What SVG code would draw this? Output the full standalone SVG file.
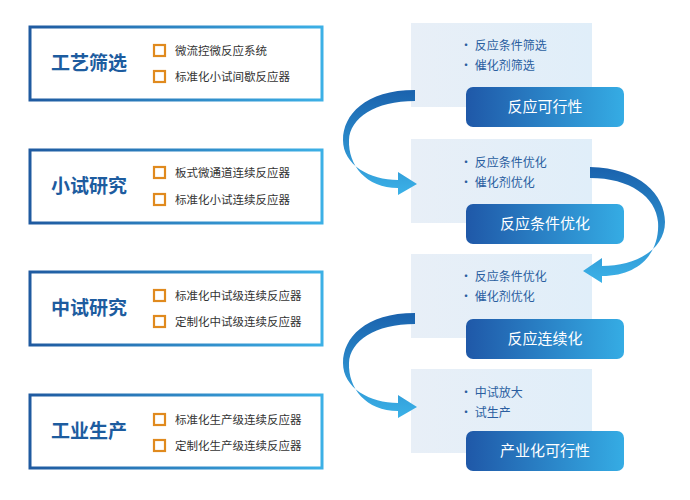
<svg xmlns="http://www.w3.org/2000/svg" width="690" height="500" viewBox="0 0 690 500">
<defs>
<linearGradient id="bd" x1="0" y1="0" x2="1" y2="0"><stop offset="0" stop-color="#1f5aa0"/><stop offset="1" stop-color="#3cb0e6"/></linearGradient>
<linearGradient id="btn" x1="0" y1="0" x2="1" y2="0"><stop offset="0" stop-color="#1f58a8"/><stop offset="1" stop-color="#35ace4"/></linearGradient>
<linearGradient id="pn" x1="0" y1="0" x2="1" y2="0"><stop offset="0" stop-color="#e8eff7"/><stop offset="1" stop-color="#e0eef9"/></linearGradient>
<linearGradient id="ar" x1="0" y1="0" x2="0" y2="1"><stop offset="0" stop-color="#1a62ad"/><stop offset="1" stop-color="#3bb2e8"/></linearGradient>
<style>
.lb{fill:#fff;stroke:url(#bd);stroke-width:3}
.t{font-family:"Noto Sans CJK SC",sans-serif;font-weight:bold;font-size:19px;fill:#1d5c9f;text-anchor:middle}
.sq{fill:none;stroke:#e08a1e;stroke-width:2.2}
.s{font-family:"Noto Sans CJK SC",sans-serif;font-size:11.5px;fill:#333}
.b{font-family:"Noto Sans CJK SC",sans-serif;font-size:12px;fill:#2a5ea0}
.w{font-family:"Noto Sans CJK SC",sans-serif;font-size:15px;fill:#fff;text-anchor:middle}
</style>
</defs>
<rect width="690" height="500" fill="#fff"/>
<g id="left1"><rect class="lb" x="30" y="27" width="292" height="73"/><text class="t" x="89" y="70">工艺筛选</text><rect class="sq" x="154" y="45" width="11" height="11"/><text class="s" x="175" y="55">微流控微反应系统</text><rect class="sq" x="154" y="71" width="11" height="11"/><text class="s" x="175" y="81">标准化小试间歇反应器</text></g>
<g id="left2"><rect class="lb" x="30" y="150" width="292" height="73"/><text class="t" x="89" y="193">小试研究</text><rect class="sq" x="154" y="167" width="11" height="11"/><text class="s" x="175" y="177">板式微通道连续反应器</text><rect class="sq" x="154" y="194" width="11" height="11"/><text class="s" x="175" y="204">标准化小试连续反应器</text></g>
<g id="left3"><rect class="lb" x="30" y="272" width="292" height="73"/><text class="t" x="89" y="315">中试研究</text><rect class="sq" x="154" y="290" width="11" height="11"/><text class="s" x="175" y="300">标准化中试级连续反应器</text><rect class="sq" x="154" y="316" width="11" height="11"/><text class="s" x="175" y="326">定制化中试级连续反应器</text></g>
<g id="left4"><rect class="lb" x="30" y="395" width="292" height="73"/><text class="t" x="89" y="438">工业生产</text><rect class="sq" x="154" y="414" width="11" height="11"/><text class="s" x="175" y="424">标准化生产级连续反应器</text><rect class="sq" x="154" y="440" width="11" height="11"/><text class="s" x="175" y="450">定制化生产级连续反应器</text></g>
<g id="right1"><rect fill="url(#pn)" x="411" y="23" width="181" height="84"/><text class="b" x="460" y="50">• 反应条件筛选</text><text class="b" x="460" y="70">• 催化剂筛选</text><rect fill="url(#btn)" x="466" y="87" width="158" height="40" rx="7"/><text class="w" x="545" y="112">反应可行性</text></g>
<g id="right2"><rect fill="url(#pn)" x="411" y="139" width="181" height="84"/><text class="b" x="460" y="167">• 反应条件优化</text><text class="b" x="460" y="187">• 催化剂优化</text><rect fill="url(#btn)" x="466" y="204" width="158" height="40" rx="7"/><text class="w" x="545" y="229">反应条件优化</text></g>
<g id="right3"><rect fill="url(#pn)" x="411" y="254" width="181" height="84"/><text class="b" x="460" y="281">• 反应条件优化</text><text class="b" x="460" y="301">• 催化剂优化</text><rect fill="url(#btn)" x="466" y="319" width="158" height="40" rx="7"/><text class="w" x="545" y="344">反应连续化</text></g>
<g id="right4"><rect fill="url(#pn)" x="411" y="369" width="181" height="84"/><text class="b" x="460" y="397">• 中试放大</text><text class="b" x="460" y="417">• 试生产</text><rect fill="url(#btn)" x="466" y="431" width="158" height="40" rx="7"/><text class="w" x="545" y="456">产业化可行性</text></g>
<g id="connectors" fill="url(#ar)">
<path d="M415,90 C365,90 343,115 343,140 C343,165 370,180 398,180 L398,172 L417,184 L398,195 L398,188 C366,188 348,165 349,140 C350,118 375,101 415,101 Z"/>
<path d="M590,167 C640,168 665,195 665,222 C665,250 635,266 602,266 L602,258 L583,271 L602,283 L602,276 C642,276 660,250 658,222 C656,197 630,178 590,178 Z"/>
<path transform="translate(0,223)" d="M415,90 C365,90 343,115 343,140 C343,165 370,180 398,180 L398,172 L417,184 L398,195 L398,188 C366,188 348,165 349,140 C350,118 375,101 415,101 Z"/>
</g>
</svg>
